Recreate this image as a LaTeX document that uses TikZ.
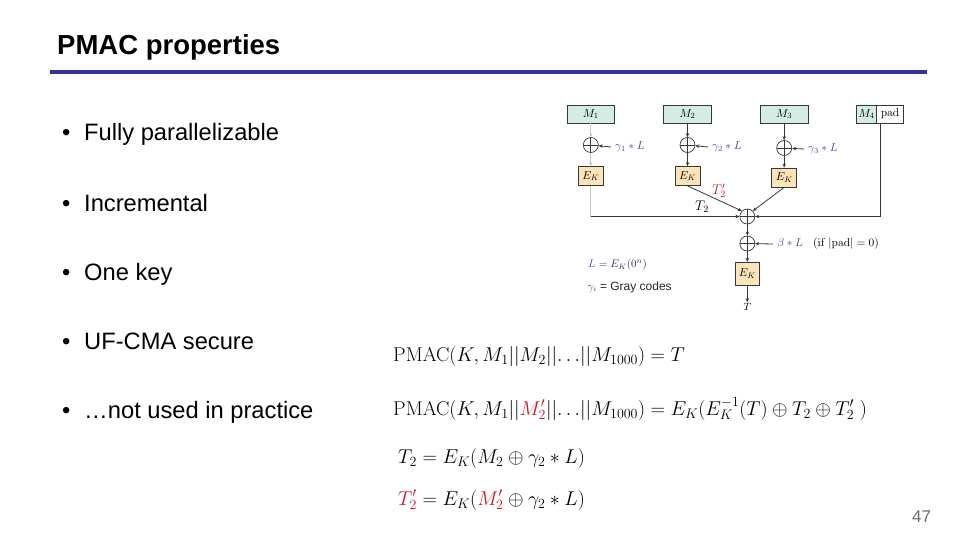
\documentclass[tikz,border=0pt]{standalone}
\usepackage{fix-cm}
\usepackage[no-math]{fontspec}
\setmainfont{Liberation Sans}
\usetikzlibrary{arrows.meta}
\definecolor{titleblue}{RGB}{51,51,153}
\definecolor{mgreen}{RGB}{213,236,226}
\definecolor{ekorange}{RGB}{252,228,184}
\definecolor{linegray}{RGB}{55,55,55}
\definecolor{gblue}{RGB}{70,70,160}
\definecolor{tred}{RGB}{196,24,38}
\definecolor{numgray}{RGB}{110,110,110}
\tikzset{
 mbox/.style={draw=linegray, fill=mgreen, minimum height=18, inner sep=0, line width=0.7, font=\fontsize{11.5}{13}\selectfont},
 ekbox/.style={draw=linegray, fill=ekorange, minimum width=25, minimum height=19, inner sep=0, line width=0.7, font=\fontsize{11.5}{13}\selectfont},
 xorc/.style={circle, draw=linegray, minimum size=15, inner sep=0, line width=0.7,
   path picture={\draw[linegray,line width=0.7] (path picture bounding box.north) -- (path picture bounding box.south) (path picture bounding box.west) -- (path picture bounding box.east);}},
 conn/.style={draw=linegray, line width=0.8},
 arr/.style={conn, -{Stealth[length=4,width=3.5]}},
 faint/.style={draw=black!22, line width=0.8},
 faintarr/.style={faint, -{Stealth[length=4,width=3.5]}},
 lbl/.style={inner sep=0, anchor=west, font=\fontsize{11.5}{13}\selectfont, text=gblue},
 eq/.style={inner sep=0, anchor=base west, font=\fontsize{20}{24}\selectfont},
 bul/.style={inner sep=0, anchor=base west, font=\fontsize{23.7}{28}\selectfont},
}
\begin{document}
\begin{tikzpicture}[x=1pt,y=-1pt]
\useasboundingbox (0,0) rectangle (960,540);
\fill[white] (0,0) rectangle (960,540);

% title
\node[anchor=base west, inner sep=0, font=\fontsize{27.5}{32}\selectfont\bfseries] (title) at (57,55) {PMAC properties};
\draw[titleblue, line width=4] (50,72) -- (927,72);

% bullets
\foreach \n/\y/\t in {1/141/Fully parallelizable, 2/211/Incremental, 3/280/One key, 4/349/UF-CMA secure, 5/418/…not used in practice}{
  \node[bul] (d\n) at (62,\y) {•};
  \node[bul] (b\n) at (84,\y) {\t};
}

% diagram: message blocks
\node[mbox, minimum width=47] (m1) at (590.8,114) {$M_1$};
\node[mbox, minimum width=48] (m2) at (687.5,114) {$M_2$};
\node[mbox, minimum width=48] (m3) at (784.2,114) {$M_3$};
\node[mbox, minimum width=20] (m4) at (866.7,114) {$M_4$};
\node[draw=linegray, fill=white, minimum width=26.6, minimum height=18, inner sep=0, line width=0.7, font=\fontsize{11.5}{13}\selectfont] (pad) at (890,114) {$\mathrm{pad}$};

% xor nodes
\node[xorc] (x1) at (590.8,145) {};
\node[xorc] (x2) at (687.5,145) {};
\node[xorc] (x3) at (784.2,148) {};
\node[xorc] (xb) at (747.3,216.5) {};
\node[xorc] (x4) at (747.3,243.5) {};

% E_K boxes
\node[ekbox] (e1) at (590.8,176) {$E_K$};
\node[ekbox] (e2) at (687.5,176) {$E_K$};
\node[ekbox] (e3) at (784.2,177.5) {$E_K$};
\node[ekbox, minimum width=24, minimum height=23] (ef) at (747.3,273.6) {$E_K$};
\node[inner sep=1, font=\fontsize{10.5}{12}\selectfont] (tout) at (747.3,307) {$T$};

% labels
\node[lbl] (g1) at (615,147) {$\gamma_1 \ast L$};
\node[lbl] (g2) at (712,147) {$\gamma_2 \ast L$};
\node[lbl] (g3) at (808,149) {$\gamma_3 \ast L$};
\node[lbl] (beta) at (777,244) {$\beta \ast L$};
\node[lbl, text=black] (ifpad) at (813,244) {$(\mathrm{if}\ |\mathrm{pad}| = 0)$};
\node[lbl, text=gblue!60!black, font=\fontsize{11}{13}\selectfont] (ldef) at (588,265) {$\textcolor{gblue}{L} = E_K(0^n)$};
\node[lbl, text=black!85, font=\fontsize{12}{14}\selectfont] (gdef) at (587,287) {$\textcolor{gblue}{\gamma_i}$ = Gray codes};
\node[inner sep=0, font=\fontsize{14}{16}\selectfont] (t2) at (702,207) {$T_2$};
\node[inner sep=0, font=\fontsize{14}{16}\selectfont, text=tred] (t2p) at (719,191) {$T_2'$};

% connectors
\draw[faintarr] (m1) -- (x1);
\draw[faintarr] (x1) -- (e1);
\draw[arr] (m2) -- (x2);
\draw[arr] (x2) -- (e2);
\draw[arr] (m3) -- (x3);
\draw[arr] (x3) -- (e3);
\draw[arr] ([xshift=-4]g1.west) -- (x1);
\draw[arr] ([xshift=-4]g2.west) -- (x2);
\draw[arr] ([xshift=-4]g3.west) -- (x3);
\coordinate (c1) at (590.8,216.5);
\draw[faint] (e1) -- (c1);
\draw[arr] (c1) -- (xb);
\coordinate (padout) at (880,123);
\coordinate (c2) at (880,216.5);
\draw[arr] (padout) -- (c2) -- (xb);
\draw[arr] (e2.south) -- (xb.north west);
\draw[arr] (e3.south) -- (xb.north east);
\draw[arr] (xb) -- (x4);
\draw[arr] ([xshift=-4]beta.west) -- (x4);
\draw[arr] (x4) -- (ef);
\draw[arr] (ef) -- (tout);

% formulas
\node[eq] (f1) at (393,361.7) {$\mathrm{PMAC}(K, M_1||M_2||\mathord{\ldotp\ldotp\ldotp}||M_{1000}) = T$};
\node[eq] (f2) at (393,415) {$\mathrm{PMAC}(K, M_1||\textcolor{tred}{M_2'}||\mathord{\ldotp\ldotp\ldotp}||M_{1000}) = E_K(E_K^{-1}(T) \oplus T_2 \oplus T_2'\;)$};
\node[eq] (f3) at (398,463.3) {$T_2 = E_K(M_2 \oplus \gamma_2 \ast L)$};
\node[eq] (f4) at (398,505) {$\textcolor{tred}{T_2'} = E_K(\textcolor{tred}{M_2'} \oplus \gamma_2 \ast L)$};

% page number
\node[inner sep=0, font=\fontsize{17}{20}\selectfont, text=numgray] (pg) at (921.5,517) {47};
\end{tikzpicture}
\end{document}
